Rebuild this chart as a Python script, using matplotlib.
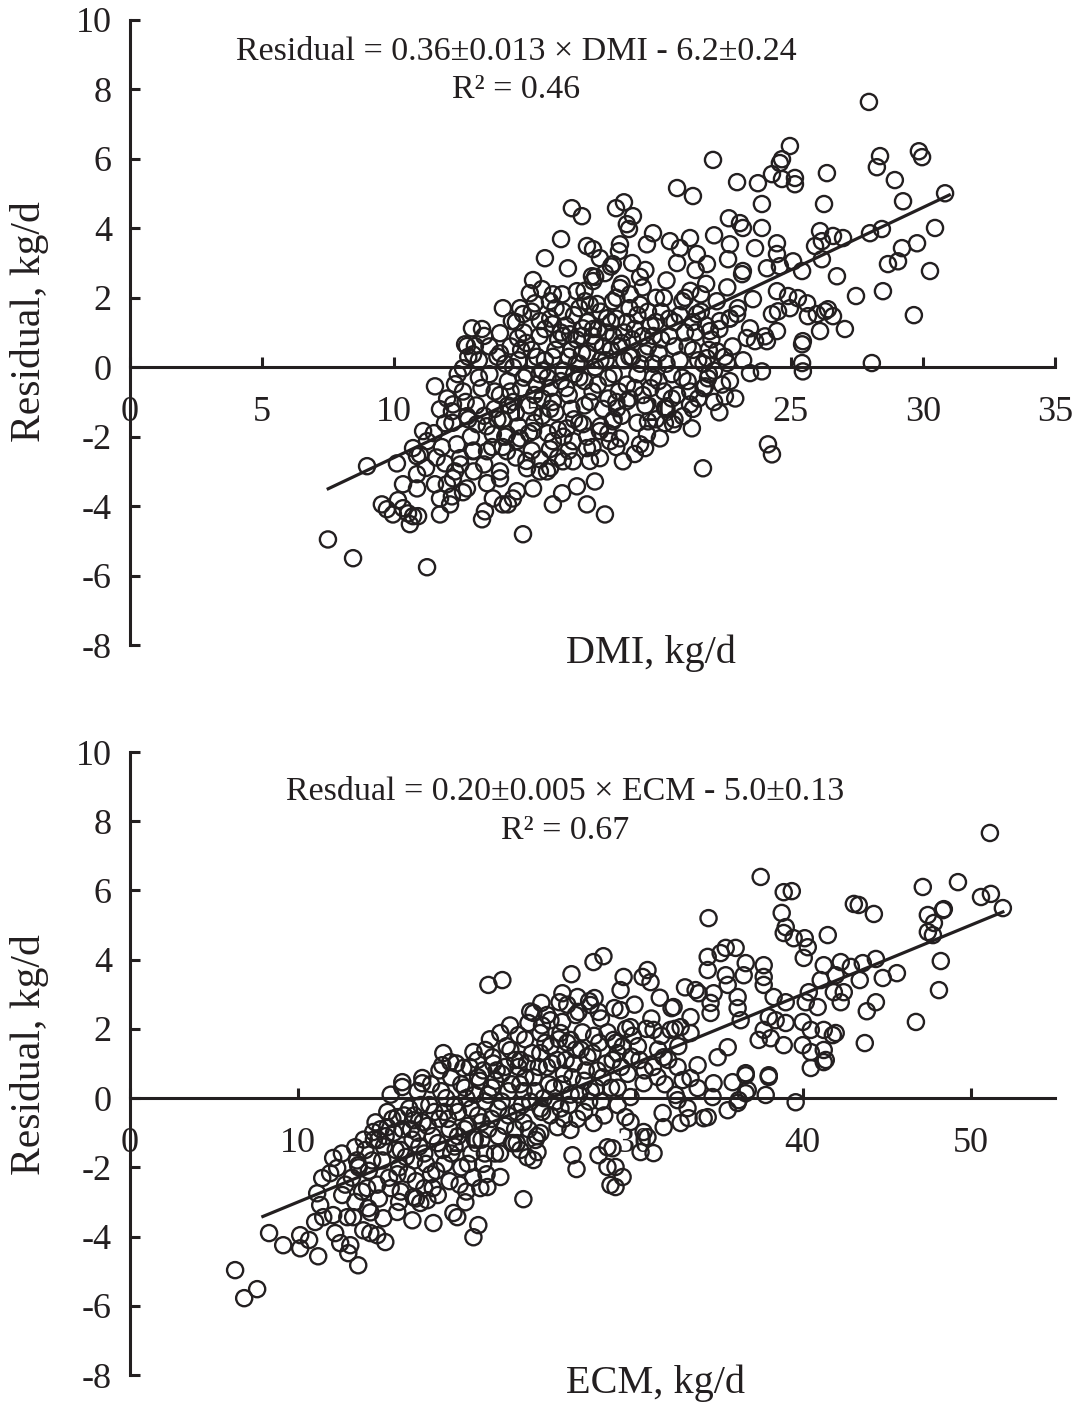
import numpy as np
import matplotlib
matplotlib.use("Agg")
import matplotlib.pyplot as plt

# ---- data (DMI panel) ----
dmi_points = [
    (7.49, -4.96), (8.44, -5.50), (11.24, -5.76), (8.97, -2.85),
    (9.53, -3.95), (9.72, -4.09), (9.95, -4.24), (10.14, -3.83), (10.33, -4.06),
    (10.52, -4.21), (10.71, -4.29), (10.90, -4.29), (10.59, -4.52), (11.73, -4.24),
    (11.73, -3.78), (12.11, -3.95), (12.18, -3.72), (11.99, -3.37), (12.22, -3.20),
    (12.75, -3.49), (11.54, -3.37), (10.86, -3.49), (10.33, -3.37), (10.86, -3.08),
    (10.10, -2.77), (10.86, -2.56), (11.09, -1.84), (11.24, -2.13), (10.71, -2.33),
    (10.97, -2.51), (11.92, -2.77), (11.54, -0.55), (11.73, -1.21), (12.18, -1.27),
    (12.22, -1.07), (12.30, -0.49), (11.92, -1.61), (12.75, -1.41), (12.60, -0.03),
    (12.75, 0.61), (12.98, 0.37), (13.32, -4.38), (13.43, -4.15), (13.51, -3.34),
    (14.00, -3.20), (13.73, -3.78), (14.11, -3.95), (14.30, -3.95), (14.49, -3.78),
    (14.64, -3.57), (14.87, -4.81), (15.25, -3.49), (15.51, -3.00), (15.78, -3.00),
    (16.00, -3.95), (16.35, -3.63), (16.91, -3.43), (17.29, -3.95), (17.59, -3.29),
    (17.97, -4.24), (17.78, -2.62), (18.65, -2.71), (17.29, -2.33), (16.76, -2.13),
    (16.76, -2.71), (16.38, -2.71), (15.89, -2.36), (15.51, -2.65), (15.02, -2.91),
    (14.64, -2.13), (14.26, -2.42), (13.51, -2.42), (12.98, -2.42), (12.49, -2.62),
    (12.37, -2.22), (13.13, -1.64), (13.73, -1.93), (14.26, -1.93), (14.76, -2.05),
    (15.25, -1.84), (16.00, -2.13), (16.53, -1.76), (17.14, -1.64), (17.78, -1.84),
    (18.16, -2.13), (18.54, -2.05), (19.30, -2.22), (18.27, -1.56), (18.43, -1.18),
    (18.80, -0.98),
    (19.49, -2.33), (20.05, -2.05), (19.56, -1.93), (19.60, -1.56), (20.24, -1.61),
    (20.55, -1.64), (20.92, -1.41), (21.26, -1.76), (21.19, -1.07), (20.24, -1.18),
    (21.68, -2.91), (22.51, -0.84), (22.70, -0.40), (21.76, -0.55), (21.87, -0.32),
    (22.59, 0.12), (23.46, -0.17), (23.91, -0.12), (24.14, -2.22), (24.29, -2.51),
    (25.43, 0.66), (25.43, 0.12), (25.46, -0.12), (28.07, 0.12), (21.83, 0.26),
    (22.21, 0.46),
    (27.96, 7.64), (24.97, 6.37), (24.67, 5.99), (24.59, 5.88), (24.29, 5.56),
    (24.67, 5.42), (25.16, 5.45), (25.16, 5.27), (23.76, 5.30), (22.97, 5.33),
    (22.06, 5.97), (20.70, 5.16), (21.30, 4.93), (26.37, 5.59), (28.38, 6.08),
    (28.26, 5.76), (28.94, 5.39), (29.85, 6.22), (29.97, 6.05), (29.25, 4.78),
    (30.84, 5.01), (30.46, 4.01), (29.78, 3.57), (29.21, 3.43), (29.06, 3.05),
    (28.68, 2.97), (30.27, 2.77), (28.49, 2.19), (27.47, 2.05), (29.66, 1.50),
    (26.75, 2.62), (26.26, 4.70), (23.91, 4.70), (23.91, 4.01), (22.66, 4.29),
    (23.08, 4.15), (23.19, 4.01), (22.10, 3.80), (21.19, 3.72), (19.79, 3.86),
    (22.70, 3.54), (22.63, 3.11), (23.65, 3.43), (24.48, 3.57), (24.48, 3.26),
    (24.10, 2.85), (24.59, 2.91), (25.09, 3.05), (25.43, 2.77), (26.11, 3.92),
    (25.92, 3.49), (26.18, 3.63), (26.18, 3.11), (26.60, 3.78), (26.98, 3.72),
    (28.00, 3.86), (28.45, 3.98), (24.48, 2.19), (24.90, 2.05), (25.27, 1.99),
    (25.62, 1.84), (24.29, 1.53), (24.52, 1.61), (24.97, 1.70), (25.65, 1.47),
    (25.99, 1.53), (26.30, 1.61), (26.60, 1.47), (26.41, 1.67), (26.11, 1.04),
    (27.05, 1.10), (25.46, 0.75), (24.48, 1.04), (23.16, 2.68), (23.19, 2.77),
    (23.57, 1.96), (22.97, 1.53), (23.46, 1.12), (24.03, 0.89), (24.10, 0.75),
    (23.65, 0.75), (23.34, 0.84), (22.70, 1.41), (22.32, 1.33), (21.94, 1.04),
    (21.45, 1.53), (21.45, 3.26), (21.83, 2.97), (20.81, 3.43), (20.43, 3.63),
    (19.56, 3.54),
    (16.72, 4.58), (17.10, 4.35), (18.39, 4.58), (18.69, 4.75), (19.03, 4.35),
    (18.80, 4.12), (18.88, 3.98), (16.31, 3.69), (15.70, 3.14), (16.57, 2.85),
    (17.29, 3.49), (17.52, 3.40), (17.78, 3.14), (18.54, 3.54), (18.50, 3.34),
    (18.27, 2.97), (17.97, 2.71), (17.48, 2.62), (17.52, 2.48), (15.25, 2.51),
    (15.59, 2.25), (15.13, 2.13), (15.32, 1.84), (15.89, 1.90), (16.35, 2.10),
    (16.38, 1.61), (16.91, 2.19), (17.22, 1.90), (17.67, 1.82), (14.11, 1.70),
    (14.76, 1.70), (14.87, 1.53), (14.45, 1.33), (12.94, 1.12), (13.32, 1.10),
    (14.00, 0.98), (14.68, 0.84), (12.68, 0.66), (13.05, 0.61), (15.51, 1.33),
    (16.00, 1.24), (16.65, 0.95), (17.14, 1.12), (17.52, 1.10), (18.54, 2.28),
    (18.92, 2.10), (18.27, 1.90), (18.05, 1.41),
    # dense core
    (13.1, -1.1), (13.3, -0.6), (13.2, 0.2), (13.5, -1.7), (13.6, -0.2), (13.4, 0.9),
    (13.8, -1.2), (13.9, 0.3), (13.7, -2.3),
    (14.0, -0.8), (14.1, -1.5), (14.2, 0.1), (14.3, -0.4), (14.4, 0.6), (14.5, -1.0),
    (14.6, -2.6), (14.7, 0.2), (14.8, -0.6), (14.9, 1.0), (14.2, -2.0), (14.6, -1.3),
    (15.0, -0.2), (15.1, -1.1), (15.2, 0.5), (15.3, -1.6), (15.4, -0.5), (15.5, 0.9),
    (15.6, -0.9), (15.7, 0.2), (15.8, -1.9), (15.9, 1.4), (15.2, -2.4), (15.6, -0.1),
    (15.9, -0.6),
    (16.0, 0.3), (16.1, -1.3), (16.2, 0.8), (16.3, -0.4), (16.4, -2.0), (16.5, 1.2),
    (16.6, -0.8), (16.7, 0.5), (16.8, -1.5), (16.9, 0.1), (16.1, 1.7), (16.4, -0.1),
    (16.8, 1.5), (16.2, -2.6),
    (17.0, -0.3), (17.1, 0.9), (17.2, -1.1), (17.3, 0.4), (17.4, 1.8), (17.5, -0.7),
    (17.6, 0.0), (17.7, 1.1), (17.8, -1.7), (17.9, 0.6), (17.2, 2.2), (17.5, -2.3),
    (17.8, 1.6), (17.0, 0.1),
    (18.0, 0.2), (18.1, -0.9), (18.2, 1.3), (18.3, -0.2), (18.4, 2.0), (18.5, 0.6),
    (18.6, -1.4), (18.7, 1.0), (18.8, -0.5), (18.9, 1.7), (18.3, 0.9), (18.6, 2.4),
    (18.1, -1.9), (18.9, 0.3),
    (19.0, 0.8), (19.1, -0.6), (19.2, 1.5), (19.3, 0.1), (19.4, 2.3), (19.5, -1.1),
    (19.6, 0.6), (19.7, 1.2), (19.8, -0.3), (19.9, 2.0), (19.2, -1.6), (19.5, 2.8),
    (19.8, 0.9), (19.0, 3.0),
    (20.0, 0.4), (20.1, 1.6), (20.2, -0.7), (20.3, 2.5), (20.4, 0.9), (20.5, -0.2),
    (20.6, 1.3), (20.7, 3.0), (20.8, 0.2), (20.9, 1.9), (20.3, -1.2), (20.7, -0.8),
    (21.0, 1.0), (21.1, -0.4), (21.2, 2.2), (21.3, 0.5), (21.4, 2.8), (21.5, -0.9),
    (21.6, 1.6), (21.7, 0.1), (21.8, 2.4), (21.9, -0.2), (21.3, 1.3),
    (22.0, 0.8), (22.2, 1.9), (22.4, -0.5), (22.6, 2.3), (22.8, 0.6), (23.0, 1.7),
    (22.3, -1.3), (23.2, 0.2), (22.9, -0.9),
    (11.5, -1.9), (11.8, -2.3), (12.0, -0.9), (12.2, -1.6), (12.4, -0.2), (12.5, -2.8),
    (12.7, -1.0), (12.8, 0.3), (12.9, -2.0), (12.3, -3.0), (11.6, -2.6), (11.2, -2.9),
    (12.6, -3.6), (13.0, -3.0),
    (13.2, -0.3), (13.4, -1.4), (13.6, 0.6), (13.8, -0.7), (14.0, 0.4), (14.1, -2.3),
    (14.3, -1.1), (14.5, 0.0), (14.7, -1.7), (14.9, -0.3), (15.0, 0.7), (15.1, -1.9),
    (15.3, -0.8), (15.4, 0.3), (15.6, -1.4), (15.7, 1.1), (15.8, -0.3), (16.0, -1.0),
    (16.1, 0.5), (16.2, -1.8), (16.3, 1.0), (16.5, -0.6), (16.6, 0.3), (16.7, -1.2),
    (16.9, 0.8), (17.0, -1.6), (17.1, 0.4), (17.2, -0.4), (17.3, 1.3), (17.4, -1.0),
    (17.6, 0.7), (17.7, -0.5), (17.8, 0.2), (17.9, -1.2), (18.0, 1.0), (18.1, -0.3),
    (18.2, 0.5), (18.3, -1.5), (18.4, 1.4), (18.5, -0.7), (18.7, 0.2), (18.8, 1.3),
    (18.9, -0.9), (19.0, 0.3), (19.1, 1.1), (19.2, -0.2), (19.3, 1.8), (19.4, -0.8),
    (19.5, 0.4), (19.6, 1.6), (19.7, -0.6), (19.8, 0.1), (19.9, 1.3), (20.0, -0.4),
    (20.1, 0.8), (20.2, 2.0), (20.3, 0.1), (20.4, 1.4), (20.5, -0.9), (20.6, 0.6),
    (20.8, 1.5), (20.9, -0.3), (21.0, 2.0), (21.1, 0.6), (21.2, -0.7), (21.4, 1.0),
    (21.5, 0.2), (21.6, 2.1), (21.7, -0.6), (21.8, 1.2), (21.9, 0.5), (22.1, -0.1),
    (22.3, 1.1), (22.5, 0.3), (22.7, 1.4), (14.4, -0.7), (14.8, 0.5), (15.5, -0.2),
    (16.4, 0.9), (17.5, 0.9), (18.6, 0.7), (19.4, 0.9), (15.9, -1.2), (16.8, -0.2),
    (17.3, -2.0), (18.4, -1.0), (13.9, -1.5), (14.6, 1.3), (15.2, 1.6), (16.0, 2.1),
    (17.0, 1.7), (17.6, 2.6), (18.2, 2.9), (19.3, 2.6), (13.0, -2.4), (12.8, -1.5),
    (12.6, -0.7), (13.4, -2.8), (14.0, -3.0), (15.0, -2.7), (15.9, -2.9), (16.6, -2.4),
    (17.4, -2.7), (18.4, -2.3), (19.1, -2.5), (19.9, -1.5), (20.6, -1.5), (21.3, -1.2),
    (22.1, -1.0),
]

# ---- data (ECM panel) ----
ecm_points = [
    (21.31, 3.27), (22.14, 3.41), (26.25, 3.58), (27.56, 3.93), (28.15, 4.10),
    (24.46, 2.75), (25.71, 3.03), (25.54, 2.77), (26.61, 2.92), (27.62, 2.89),
    (26.67, 2.49), (27.38, 2.69), (27.86, 2.49), (23.99, 2.46), (25.00, 2.25),
    (23.69, 2.17), (22.02, 1.88), (23.10, 1.82), (24.40, 1.88), (25.60, 1.88),
    (26.19, 1.68), (18.63, 1.30), (18.57, 0.95), (19.05, 1.04), (20.42, 1.33),
    (21.13, 1.39), (21.55, 1.18), (20.65, 1.10), (22.62, 1.39), (23.21, 1.10),
    (17.38, 0.58), (16.19, 0.46), (19.82, 0.87),
    (51.13, 7.66), (37.50, 6.39), (38.87, 5.95), (39.35, 5.98), (47.14, 6.10),
    (49.23, 6.24), (50.60, 5.81), (51.19, 5.90), (43.04, 5.61), (43.33, 5.58),
    (44.23, 5.32), (34.40, 5.20), (38.75, 5.35), (38.99, 4.94), (38.87, 4.77),
    (39.46, 4.62), (40.12, 4.62), (40.30, 4.36), (40.06, 4.05), (41.49, 4.71),
    (47.44, 5.29), (48.33, 5.43), (48.39, 5.46), (47.80, 5.06), (47.44, 4.80),
    (47.74, 4.71), (48.21, 3.96), (48.10, 3.12), (45.60, 3.61), (44.76, 3.47),
    (44.35, 4.02), (43.57, 3.90), (43.39, 3.41), (42.86, 3.79), (42.26, 3.93),
    (41.25, 3.84), (41.07, 3.41), (41.96, 3.55), (41.85, 3.06), (42.44, 3.06),
    (42.26, 2.77), (40.36, 3.06), (40.18, 2.77), (40.89, 2.63), (44.35, 2.77),
    (43.81, 2.51), (46.73, 2.20), (43.69, 1.59), (34.35, 4.08), (35.42, 4.34),
    (36.01, 4.34), (35.12, 4.19), (36.61, 3.90), (37.68, 3.84), (36.49, 3.55),
    (37.68, 3.50), (37.68, 3.27), (34.35, 3.70), (35.42, 3.55), (35.54, 3.27),
    (30.77, 3.70), (30.95, 3.35), (29.35, 3.50), (29.17, 3.12), (30.48, 3.50),
    (38.27, 2.92), (38.99, 2.77), (36.13, 2.92), (33.63, 3.12), (33.81, 3.03),
    (34.70, 3.03), (34.52, 2.75), (32.32, 2.63), (33.33, 2.34), (34.52, 2.46),
    (36.13, 2.60), (36.31, 2.25), (37.98, 2.34), (38.39, 2.25), (38.99, 2.17),
    (40.00, 2.20), (40.48, 1.97), (41.25, 1.97), (41.79, 1.82), (41.96, 1.88),
    (37.68, 1.97), (37.38, 1.68), (38.10, 1.73), (38.87, 1.53), (40.00, 1.53),
    (40.48, 1.33), (41.25, 1.39), (41.37, 1.10), (40.48, 0.87), (37.98, 0.66),
    (36.61, 0.72), (35.54, 1.47), (34.94, 1.18), (33.75, 0.95), (32.56, 0.90),
    (31.73, 1.18), (31.13, 1.97), (29.76, 2.05), (29.17, 2.54), (28.75, 1.68),
    (28.99, 1.30), (33.33, 1.88), (32.74, 2.05), (32.14, 1.97), (51.90, 5.49),
    (6.25, -4.97), (6.79, -5.78), (7.56, -5.52), (8.27, -3.90), (9.11, -4.25),
    (10.12, -3.96), (10.12, -4.34), (10.65, -4.10), (11.19, -4.57), (11.13, -2.75),
    (11.31, -3.09), (11.43, -2.31), (12.08, -1.73), (11.90, -2.17), (12.32, -2.02),
    (12.62, -2.80), (11.01, -3.58), (11.49, -3.44), (12.08, -3.38), (12.92, -3.44),
    (13.27, -3.44), (12.20, -3.90), (12.50, -4.19), (13.10, -4.25), (12.98, -4.48),
    (13.57, -4.83), (13.87, -3.82), (14.29, -3.90), (14.70, -3.96), (15.18, -4.16),
    (15.06, -3.47), (15.89, -3.29), (16.79, -3.53), (18.04, -3.61), (19.23, -3.32),
    (19.46, -3.44), (19.94, -3.01), (20.42, -4.02), (20.71, -3.67), (23.39, -2.92),
    (22.02, -2.28), (21.25, -2.57), (20.83, -2.60), (17.26, -3.03), (17.68, -2.95),
    (16.85, -2.86), (14.17, -3.18), (13.39, -1.42), (13.57, -1.94), (14.46, -0.98),
    (14.76, -1.21), (15.30, -0.84), (15.89, -0.55), (16.85, -0.64), (16.19, 0.32),
    (17.38, 0.43), (26.31, -1.65), (26.55, -2.05), (27.86, -1.65), (28.39, -1.42),
    (28.39, -1.99), (28.57, -2.51), (23.99, -1.79), (24.23, -1.56), (23.63, -1.71),
    (23.21, -1.50), (24.40, -1.01), (24.11, -1.21), (25.42, -0.84), (26.19, -0.92),
    (27.56, -0.72), (22.80, -1.30),
    (41.25, 1.04), (37.98, 0.61), (37.80, 0.09), (39.58, -0.12), (36.61, 0.66),
    (36.73, 0.23), (36.61, 0.14), (36.19, -0.06), (35.83, 0.46), (35.54, -0.35),
    (36.13, -0.14), (34.70, 0.43), (34.64, 0.03), (34.35, -0.55), (34.11, -0.58),
    (33.75, 0.29), (33.21, -0.58), (32.74, -0.72), (33.15, -0.29), (32.44, 0.09),
    (32.56, -0.06), (31.67, -0.43), (31.73, -0.84), (32.86, 0.52), (33.33, 0.58),
    (31.37, 0.61), (30.54, 0.43), (29.76, 0.03), (29.46, -0.55), (29.76, -0.69),
    (30.54, -0.98), (30.77, -1.13), (30.36, -1.56), (31.13, -1.59), (28.87, -1.99),
    (29.29, -2.28), (28.87, -2.57), (28.69, -1.45),
    # dense core
    (13.2, -2.3), (13.5, -1.8), (13.8, -2.7), (14.0, -1.5), (14.2, -2.1), (14.5, -1.2),
    (14.7, -2.5), (14.9, -0.9), (13.4, -3.0), (14.3, -3.3), (12.8, -2.5), (12.6, -1.6),
    (15.0, -1.8), (15.2, -1.1), (15.4, -2.3), (15.6, -0.6), (15.8, -1.5), (16.0, -2.0),
    (16.2, -0.9), (16.4, -1.7), (16.6, -0.3), (16.8, -1.2), (17.0, -2.4), (16.1, -2.7),
    (16.9, -0.5), (15.5, 0.1), (17.1, 0.2),
    (17.2, -1.4), (17.4, -0.7), (17.6, -1.9), (17.8, -0.2), (18.0, -1.1), (18.2, -2.1),
    (18.4, -0.6), (18.6, -1.5), (18.8, 0.0), (19.0, -0.9), (17.5, -2.6), (18.3, -2.8),
    (19.1, 0.6), (18.7, -0.4), (17.9, 0.4),
    (19.3, -1.4), (19.5, -0.4), (19.7, -2.0), (19.9, 0.3), (20.1, -0.8), (20.3, -1.6),
    (20.5, 0.1), (20.7, -0.5), (20.9, -1.2), (21.0, 0.8), (19.6, -2.5), (20.4, -2.3),
    (20.8, 0.5), (21.1, -0.1),
    (21.3, -0.9), (21.5, 0.3), (21.7, -1.6), (21.9, -0.3), (22.1, 0.7), (22.3, -0.8),
    (22.5, 0.2), (22.7, -1.3), (22.9, 1.1), (21.6, 1.0), (22.4, 1.5), (23.0, -0.4),
    (21.2, -2.2),
    (23.2, 0.4), (23.4, -0.7), (23.6, 1.0), (23.8, -0.1), (24.0, 0.6), (24.2, -1.1),
    (24.4, 1.3), (24.6, 0.0), (24.8, 0.9), (25.0, -0.5), (23.5, 1.7), (24.5, 2.1),
    (25.0, 1.5),
    (25.2, 0.3), (25.4, 1.1), (25.6, -0.3), (25.8, 0.7), (26.0, 1.6), (26.2, 0.1),
    (26.4, 1.0), (26.6, -0.6), (26.8, 1.4), (27.0, 0.5), (25.7, 2.2), (26.5, 2.4),
    (27.2, 1.2), (27.4, 0.2), (27.6, 1.8), (27.8, 0.8), (28.0, 2.3), (28.3, 1.0),
    (28.6, 0.3), (28.9, 1.6), (29.2, 0.9), (29.5, 2.0), (29.8, 1.2), (28.2, -0.5),
    (27.3, 2.8), (28.8, 2.6),
    (30.2, 1.5), (30.6, 0.8), (31.0, 2.3), (31.4, 1.4), (31.8, 0.4), (32.2, 2.6),
    (32.6, 1.5), (33.0, 3.2), (31.5, 2.9), (30.0, 2.7),
    (13.6, -2.0), (13.9, -1.2), (14.1, -2.6), (14.4, -1.8), (14.6, -0.7), (14.8, -2.9),
    (15.1, -1.4), (15.3, -0.4), (15.5, -2.6), (15.7, -1.0), (15.9, -2.2), (16.1, -1.5),
    (16.3, -0.5), (16.5, -2.2), (16.7, -0.9), (16.9, -1.8), (17.1, -1.0), (17.3, -0.2),
    (17.5, -1.6), (17.7, -0.8), (17.9, -2.2), (18.1, -0.4), (18.3, -1.3), (18.5, 0.2),
    (18.7, -1.9), (18.9, -0.6), (19.1, -1.6), (19.3, -0.2), (19.5, -1.1), (19.7, 0.4),
    (19.9, -0.9), (20.1, -1.9), (20.3, -0.3), (20.5, -1.2), (20.7, 0.6), (20.9, -0.7),
    (21.1, -1.6), (21.3, 0.1), (21.5, -0.6), (21.7, 0.5), (21.9, -1.1), (22.1, -0.1),
    (22.3, 0.9), (22.5, -0.5), (22.7, 0.4), (22.9, -0.9), (23.1, 0.9), (23.3, -0.2),
    (23.5, 0.6), (23.7, -0.9), (23.9, 1.3), (24.1, 0.2), (24.3, 0.9), (24.5, -0.4),
    (24.7, 1.6), (24.9, 0.4), (25.1, 1.0), (25.3, -0.1), (25.5, 1.7), (25.7, 0.4),
    (25.9, 1.1), (26.1, -0.2), (26.3, 0.6), (26.5, 1.4), (26.7, 0.1), (26.9, 1.9),
    (27.1, 0.8), (27.3, -0.1), (27.5, 1.3), (27.7, 0.3), (27.9, 1.6), (28.1, 0.6),
    (28.4, 1.9), (28.7, 1.1), (29.0, 0.3), (29.3, 1.5), (29.6, 0.7), (29.9, 1.8),
    (30.3, 1.1), (30.7, 2.0), (31.1, 0.9), (31.6, 1.8), (32.0, 1.1), (32.4, 2.0),
    (16.0, -3.0), (17.0, -2.9), (18.0, -2.6), (19.0, -2.4), (20.0, -2.7), (21.0, -1.9),
    (22.0, -1.6), (23.0, -1.3), (18.4, 0.8), (19.4, 1.0), (20.2, 0.9), (21.4, 1.7),
    (22.6, 2.1), (23.8, 2.5), (24.8, 2.4), (26.0, 2.7), (20.0, 0.0), (21.8, 0.8),
    (23.4, 0.2), (24.4, -0.3), (25.8, -0.6), (27.0, -0.4), (28.0, -0.1), (29.0, -0.2),
]

# regression lines: slope, intercept, x range
dmi_fit = (0.36, -6.2, 7.5, 31.0)
ecm_fit = (0.20, -5.0, 7.9, 51.9)

dmi_eq = "Residual = 0.36\u00b10.013 \u00d7 DMI - 6.2\u00b10.24"
dmi_r2 = "R\u00b2 = 0.46"
ecm_eq = "Resdual = 0.20\u00b10.005 \u00d7 ECM - 5.0\u00b10.13"
ecm_r2 = "R\u00b2 = 0.67"

yticks = [-8, -6, -4, -2, 0, 2, 4, 6, 8, 10]
dmi_xticks = [0, 5, 10, 15, 20, 25, 30, 35]
ecm_xticks = [0, 10, 20, 30, 40, 50]

plt.rcParams["font.family"] = ["Liberation Serif", "DejaVu Serif"]
plt.rcParams["axes.unicode_minus"] = False

INK = "#231f20"
W, H = 1075, 1404
fig = plt.figure(figsize=(W / 100, H / 100), dpi=100)


def panel(rect, pts, fit, xticks, xmax, eq, r2, eq_xy, xlabel, xlabel_xy, ylabel_xy):
    ax = fig.add_axes(rect)
    pts = np.array(pts)
    ax.scatter(pts[:, 0], pts[:, 1], s=135, facecolors="none",
               edgecolors=INK, linewidths=1.7, zorder=3, clip_on=False)
    k, b, x0, x1 = fit
    xs = np.array([x0, x1])
    ax.plot(xs, k * xs + b, color=INK, lw=2.3, zorder=4)

    ax.set_xlim(0, xmax)
    ax.set_ylim(-8, 10)
    for s in ("top", "right"):
        ax.spines[s].set_visible(False)
    ax.spines["bottom"].set_position(("data", 0))
    for s in ("left", "bottom"):
        ax.spines[s].set_linewidth(2.2)
        ax.spines[s].set_color(INK)
    ax.set_xticks(xticks)
    ax.set_yticks(yticks)
    ax.tick_params(axis="both", direction="in", length=7, width=2.2,
                   colors=INK, labelsize=26)
    ax.tick_params(axis="x", pad=21)
    ax.tick_params(axis="y", pad=13)

    ax.text(eq_xy[0], eq_xy[1], eq, ha="center", va="center", fontsize=24.5, color=INK)
    ax.text(eq_xy[0], eq_xy[1] - 1.12, r2, ha="center", va="center", fontsize=24.5, color=INK)
    fig.text(xlabel_xy[0] / W, 1 - xlabel_xy[1] / H, xlabel, ha="center",
             va="center", fontsize=29, color=INK)
    fig.text(ylabel_xy[0] / W, 1 - ylabel_xy[1] / H, "Residual, kg/d", ha="center",
             va="center", rotation=90, fontsize=30, color=INK)
    return ax


panel([130 / W, 1 - 645 / H, 925 / W, 625 / H], dmi_points, dmi_fit, dmi_xticks, 35,
      dmi_eq, dmi_r2, (14.6, 9.1), "DMI, kg/d", (651, 653), (30, 322))
panel([130 / W, 1 - 1375 / H, 925 / W, 623 / H], ecm_points, ecm_fit, ecm_xticks, 55,
      ecm_eq, ecm_r2, (25.9, 8.84), "ECM, kg/d", (655, 1383), (30, 1055))

fig.savefig("out.png", dpi=100, facecolor="white")
